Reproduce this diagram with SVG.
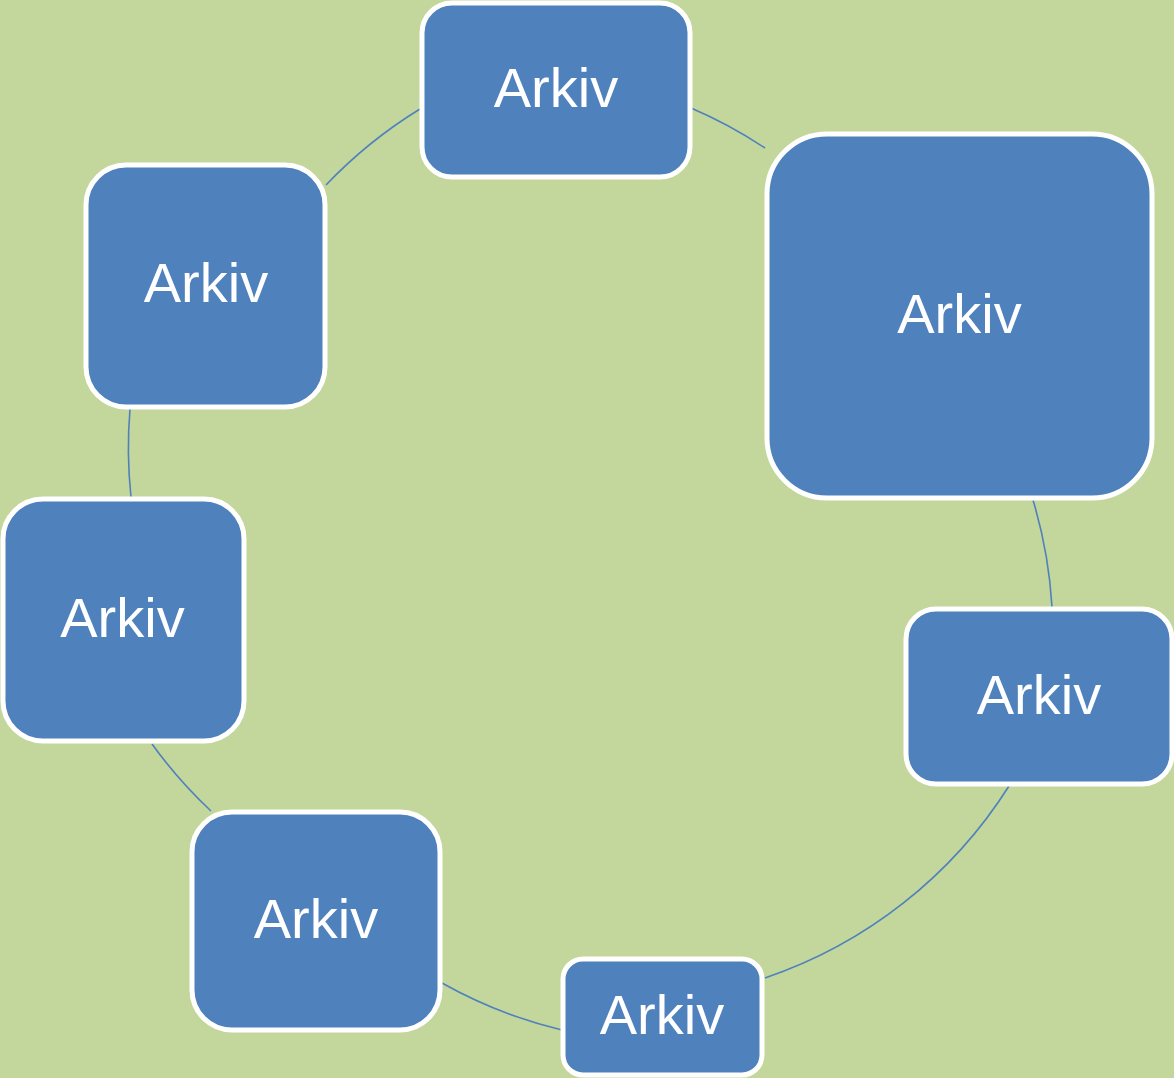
<svg xmlns="http://www.w3.org/2000/svg" width="1174" height="1078" viewBox="0 0 1174 1078">
<style>
.n{fill:#4F81BD;stroke:#FFFFFF;stroke-width:5}
.t{font-family:"Liberation Sans",Arial,sans-serif;font-size:56px;fill:#FFFFFF;text-anchor:middle}
.c{fill:none;stroke:#4F81BD;stroke-width:1.6}
</style>
<rect x="0" y="0" width="1174" height="1078" fill="#C3D69B"/>
<g id="connectors">
<path class="c" d="M691,108 A465,465 0 0 1 765,148"/>
<path class="c" d="M1033,500 A465,465 0 0 1 1052,607"/>
<path class="c" d="M1009,786 A465,465 0 0 1 765,978"/>
<path class="c" d="M562,1030 A465,465 0 0 1 442,983"/>
<path class="c" d="M211,811 A465,465 0 0 1 152,744"/>
<path class="c" d="M131,497 A465,465 0 0 1 130,409"/>
<path class="c" d="M326,185 A465,465 0 0 1 420,109"/>
</g>
<g id="node-top"><rect class="n" x="422" y="3" width="268" height="174" rx="30"/><text class="t" x="556" y="107">Arkiv</text></g>
<g id="node-right-big"><rect class="n" x="767" y="134" width="385" height="364" rx="60"/><text class="t" x="959.5" y="333">Arkiv</text></g>
<g id="node-right-bottom"><rect class="n" x="906" y="609" width="266" height="175" rx="30"/><text class="t" x="1039" y="714">Arkiv</text></g>
<g id="node-bottom"><rect class="n" x="563" y="959" width="199" height="116" rx="20"/><text class="t" x="662" y="1034">Arkiv</text></g>
<g id="node-bottom-left"><rect class="n" x="192" y="812" width="248" height="218" rx="40"/><text class="t" x="316" y="938">Arkiv</text></g>
<g id="node-left-middle"><rect class="n" x="3" y="499" width="241" height="242" rx="40"/><text class="t" x="122.5" y="637">Arkiv</text></g>
<g id="node-upper-left"><rect class="n" x="86" y="165" width="239" height="242" rx="40"/><text class="t" x="206" y="302">Arkiv</text></g>
</svg>
